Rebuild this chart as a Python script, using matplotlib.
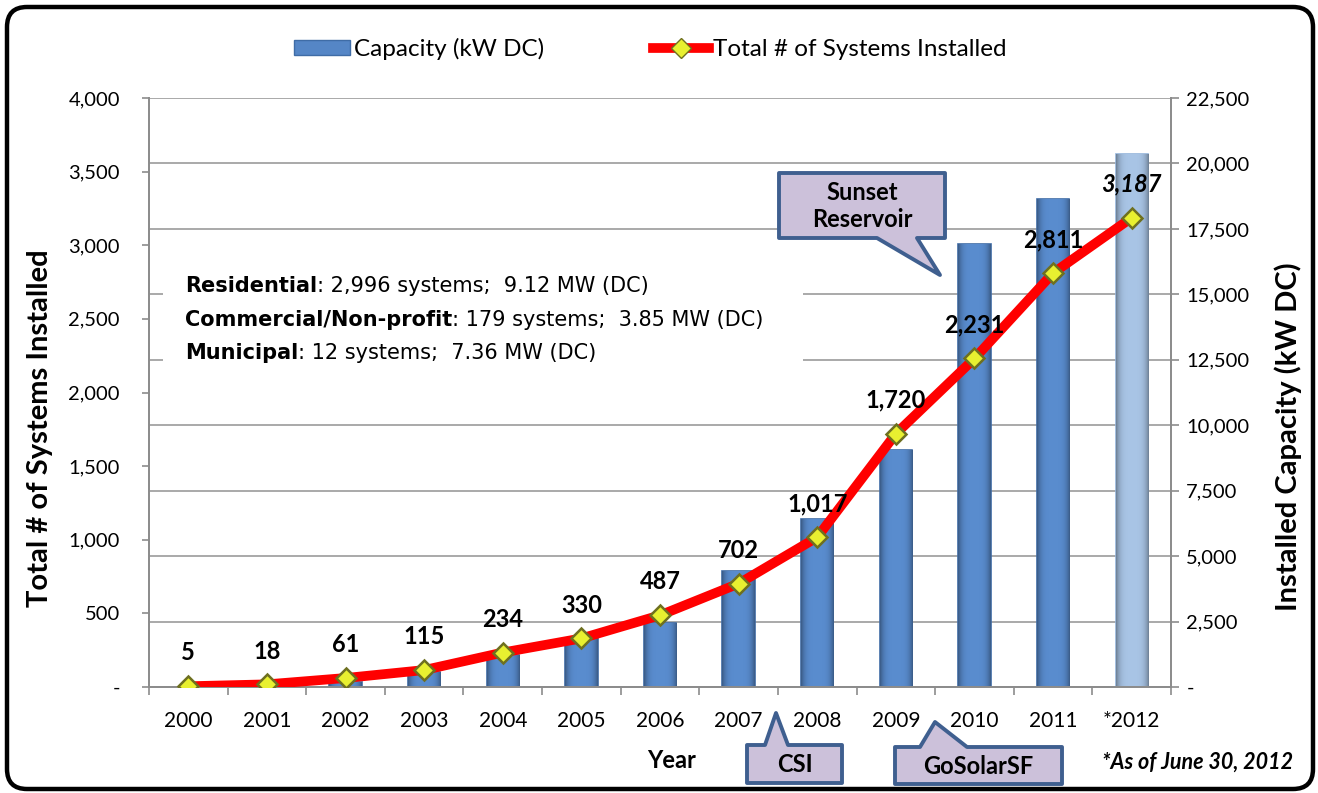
import matplotlib
matplotlib.use("Agg")
import matplotlib.pyplot as plt
from matplotlib.patches import Polygon, FancyBboxPatch, Rectangle, Patch
from matplotlib.lines import Line2D
from matplotlib.ticker import FixedLocator, FuncFormatter
import numpy as np

# ---------------- data ----------------
years = ["2000", "2001", "2002", "2003", "2004", "2005", "2006",
         "2007", "2008", "2009", "2010", "2011", "*2012"]
capacity_kw = [15, 60, 180, 560, 1235, 1870, 2430,
               4420, 6410, 9040, 16940, 18650, 20350]
systems = [5, 18, 61, 115, 234, 330, 487, 702, 1017, 1720, 2231, 2811, 3187]
system_labels = ["5", "18", "61", "115", "234", "330", "487", "702",
                 "1,017", "1,720", "2,231", "2,811", "3,187"]
left_ticks = [0, 500, 1000, 1500, 2000, 2500, 3000, 3500, 4000]
right_ticks = [0, 2500, 5000, 7500, 10000, 12500, 15000, 17500, 20000, 22500]
notes_bold = ["Residential", "Commercial/Non-profit", "Municipal"]
notes_rest = [": 2,996 systems;  9.12 MW (DC)",
              ": 179 systems;  3.85 MW (DC)",
              ": 12 systems;  7.36 MW (DC)"]

W, H = 1318, 793
FONT = "Lato"

fig = plt.figure(figsize=(W / 100, H / 100), dpi=100)
fig.patch.set_facecolor("white")

def fx(x):
    return x / W

def fy(y):
    return 1 - y / H

def inch(x, y):
    return (x / 100, (H - y) / 100)

left_px, right_px, top_px, bot_px = 149, 1171, 98, 687
ax2 = fig.add_axes([fx(left_px), fy(bot_px), (right_px - left_px) / W, (bot_px - top_px) / H])
ax = ax2.twinx()
ax.yaxis.tick_left()
ax2.yaxis.tick_right()
ax.set_zorder(ax2.get_zorder() + 1)
ax.patch.set_visible(False)

x = np.arange(len(years))

# bars (capacity, right axis) with a horizontal gradient fill
bar_colors = ["#5586C6"] * (len(years) - 1) + ["#A9C5E6"]
edge_colors = ["#3F6CA6"] * (len(years) - 1) + ["#93B4DA"]
bars = ax2.bar(x, capacity_kw, width=0.41, color=bar_colors, edgecolor=edge_colors,
               linewidth=1.2, zorder=2)
ax2.set_ylim(0, 22500)
ax2.set_xlim(-0.5, len(years) - 0.5)

prof = np.linspace(-1, 1, 64)
shade = 1 - 0.35 * prof ** 4
for i, b in enumerate(bars):
    last = i == len(bars) - 1
    base = np.array([0.66, 0.77, 0.90]) if last else np.array([0.35, 0.55, 0.81])
    img = np.clip(base[None, :] * shade[:, None], 0, 1)[None, :, :]
    bx, bw, bh = b.get_x(), b.get_width(), b.get_height()
    im = ax2.imshow(img, extent=(bx, bx + bw, 0, bh), aspect="auto", zorder=2.1,
                    interpolation="bilinear")
    im.set_clip_path(b)
ax2.set_xlim(-0.5, len(years) - 0.5)
ax2.set_ylim(0, 22500)
ax2.yaxis.set_major_locator(FixedLocator(right_ticks))
ax2.yaxis.set_major_formatter(FuncFormatter(lambda v, p: "-" if v == 0 else f"{int(v):,}"))
ax2.grid(axis="y", color="#A3A3A3", linewidth=1.3, zorder=0)
ax2.set_axisbelow(True)

# line (systems, left axis)
ax.plot(x, systems, color="#FF0000", linewidth=7, solid_capstyle="round",
        marker="D", markersize=10, markerfacecolor="#E8F030",
        markeredgecolor="#6E7020", markeredgewidth=1.8, zorder=5)
ax.set_ylim(0, 4000)
ax.yaxis.set_major_locator(FixedLocator(left_ticks))
ax.yaxis.set_major_formatter(FuncFormatter(lambda v, p: "-" if v == 0 else f"{int(v):,}"))

for i, (v, lab) in enumerate(zip(systems, system_labels)):
    last = i == len(systems) - 1
    ax.annotate(lab, (x[i], v), xytext=(0, 24), textcoords="offset points",
                ha="center", va="center", fontsize=17, fontweight="bold",
                fontstyle="italic" if last else "normal", family=FONT,
                color="black", zorder=6)

# x axis
ax2.set_xticks(x)
ax2.set_xticklabels(years, fontsize=15, family=FONT)
ax2.set_xticks(np.arange(-0.5, len(years)), minor=True)
ax2.tick_params(axis="x", which="major", length=0, pad=17)
ax2.tick_params(axis="x", which="minor", length=6, color="#8C8C8C", width=1.2, direction="out")
ax2.tick_params(axis="y", length=6, color="#8C8C8C", width=1.2, pad=5, labelsize=14.5)
ax.tick_params(axis="y", length=5, color="#8C8C8C", width=1.2, pad=16, labelsize=14.5)
for a in (ax, ax2):
    for lab in a.get_yticklabels():
        lab.set_family(FONT)
    for s in a.spines.values():
        s.set_color("#8C8C8C")
        s.set_linewidth(1.3)
    a.spines["top"].set_visible(False)

# axis titles
fig.text(fx(40), fy(428), "Total # of Systems Installed", rotation=90, ha="center", va="center",
         fontsize=21, fontweight="bold", family=FONT)
fig.text(fx(1288), fy(437), "Installed Capacity (kW DC)", rotation=90, ha="center", va="center",
         fontsize=21, fontweight="bold", family=FONT)
fig.text(fx(672), fy(761), "Year", ha="center", va="center", fontsize=17,
         fontweight="bold", family=FONT)
fig.text(fx(1198), fy(762), "*As of June 30, 2012", ha="center", va="center", fontsize=15.5,
         fontweight="bold", fontstyle="italic", family=FONT)

# notes text box
ax.add_patch(Rectangle(inch(163, 378), 640 / 100, 116 / 100, transform=fig.dpi_scale_trans,
                       facecolor="white", edgecolor="none", zorder=3, clip_on=False))
for i, (b, r) in enumerate(zip(notes_bold, notes_rest)):
    yy = [286, 320, 353][i]
    t = fig.text(fx(185), fy(yy), b, ha="left", va="center", fontsize=15,
                 fontweight="bold", family="DejaVu Sans")
    t.set_zorder(10)
    ax.annotate(r, xy=(1, 0), xycoords=t, ha="left", va="bottom",
                fontsize=15, family="DejaVu Sans", annotation_clip=False)

# callouts
fill_c, edge_c = "#CCC1DA", "#3F5F8F"

def callout(pts, text, tx, ty, fs=17):
    poly = Polygon([inch(px, py) for px, py in pts], closed=True,
                   transform=fig.dpi_scale_trans, facecolor=fill_c,
                   edgecolor=edge_c, linewidth=2.8, joinstyle="round", zorder=8)
    fig.add_artist(poly)
    fig.text(fx(tx), fy(ty), text, ha="center", va="center", fontsize=fs,
             fontweight="bold", family=FONT, linespacing=1.2, zorder=9)

callout([(779, 173), (945, 173), (945, 238), (917, 238), (940, 275), (877, 238), (779, 238)],
        "Sunset\nReservoir", 862, 206)
callout([(747, 745), (765, 745), (776, 713), (788, 745), (842, 745), (842, 783), (747, 783)],
        "CSI", 795, 765)
callout([(895, 747), (920, 747), (935, 722), (967, 747), (1062, 747), (1062, 784), (895, 784)],
        "GoSolarSF", 978, 767)

# legend
handles = [Patch(facecolor="#5586C6", edgecolor="#3F6CA6"),
           Line2D([0], [0], color="#FF0000", linewidth=7, marker="D", markersize=10,
                  markerfacecolor="#E8F030", markeredgecolor="#6E7020")]
fig.legend(handles, ["Capacity (kW DC)", "Total # of Systems Installed"],
           loc="center", bbox_to_anchor=(fx(650), fy(49)), ncol=2, frameon=False,
           prop={"family": FONT, "size": 17.5}, handlelength=2.3, handleheight=0.6,
           handletextpad=0.15, columnspacing=4.5)

# outer rounded border
border = FancyBboxPatch(inch(7, 789), 1306 / 100, 782 / 100,
                        boxstyle="round,pad=0,rounding_size=0.2",
                        transform=fig.dpi_scale_trans, facecolor="none",
                        edgecolor="black", linewidth=3.2, zorder=20)
fig.add_artist(border)

fig.savefig("out.png", dpi=100)
